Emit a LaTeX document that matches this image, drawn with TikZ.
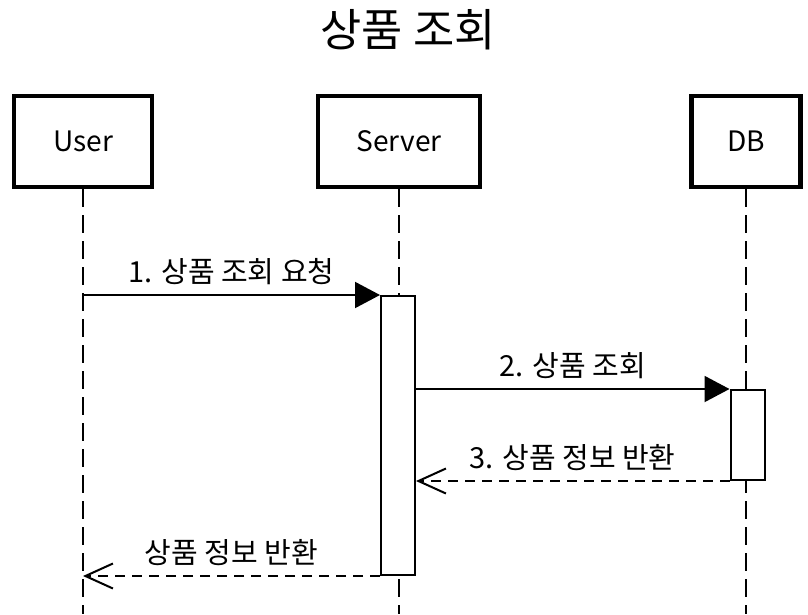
\documentclass[tikz,border=0pt]{standalone}
\usepackage{fontspec}
\setmainfont{Noto Sans CJK KR}
\usepackage{tikz}
\usetikzlibrary{arrows.meta,positioning}

\tikzset{
  actor/.style={draw, line width=0.9mm, minimum height=18.2mm, fill=white,
    font=\fontsize{16}{18}\selectfont},
  lifeline/.style={line width=0.4mm, dash pattern=on 3.6mm off 1.6mm},
  activation/.style={draw, line width=0.4mm, fill=white, minimum width=6.8mm},
  callmsg/.style={line width=0.4mm, -{Triangle[length=5mm,width=5.2mm]}},
  replymsg/.style={line width=0.4mm, dash pattern=on 2mm off 1.4mm,
    -{Straight Barb[length=5.5mm,width=5mm,line width=0.4mm]}},
  msglabel/.style={font=\fontsize{16.5}{18}\selectfont, above=0.6mm}
}

\begin{document}
\begin{tikzpicture}[x=0.2mm,y=-0.2mm]
    \useasboundingbox (0,0) rectangle (808,614);
    \node[font=\fontsize{25.5}{30}\selectfont] at (408,30) (title) {상품 조회};

    % participants
    \node[actor, minimum width=27.6mm] at (83,141.5) (user) {User};
    \node[actor, minimum width=32.4mm] at (399,141.5) (server) {Server};
    \node[actor, minimum width=21.8mm] at (746,141.5) (db) {DB};
    \coordinate (bottom) at (0,614);

    \draw[lifeline] (user.south) -- (user.south |- bottom);
    \draw[lifeline] (server.south) -- (server.south |- bottom);
    \draw[lifeline] (db.south) -- (db.south |- bottom);

    % activations
    \node[activation, minimum height=55.8mm] at (398,435.5) (srvact) {};
    \node[activation, minimum height=18mm] at (747.5,435) (dbact) {};

    % messages
    \draw[callmsg] (user.south |- srvact.north west) -- (srvact.north west)
        node[msglabel, midway] {1. 상품 조회 요청};
    \draw[callmsg] (srvact.east |- dbact.north west) -- (dbact.north west)
        node[msglabel, midway] {2. 상품 조회};
    \draw[replymsg] (dbact.south west) -- (srvact.east |- dbact.south west)
        node[msglabel, midway] {3. 상품 정보 반환};
    \draw[replymsg] (srvact.south west) -- (user.south |- srvact.south west)
        node[msglabel, midway] {상품 정보 반환};
\end{tikzpicture}
\end{document}
